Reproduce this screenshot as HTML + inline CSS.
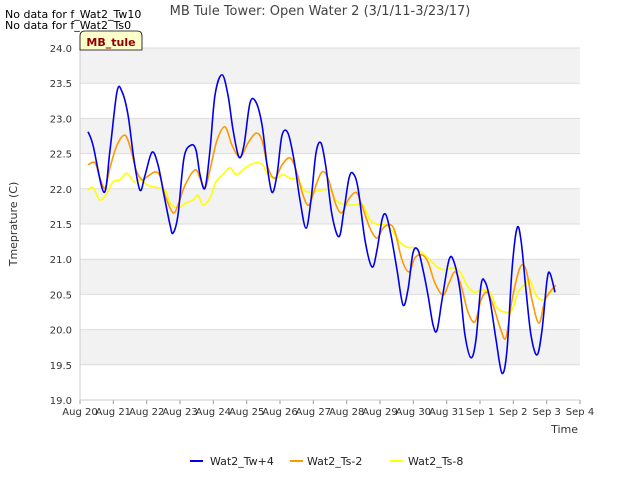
<!DOCTYPE html>
<html><head><meta charset="utf-8"><style>
body{margin:0;background:#fff;font-family:"Liberation Sans",sans-serif}
svg text{font-family:"DejaVu Sans","Liberation Sans",sans-serif}
</style></head><body>
<svg id="c" width="640" height="480" xmlns="http://www.w3.org/2000/svg">
<text x="320" y="15" text-anchor="middle" font-size="13" fill="#444">MB Tule Tower: Open Water 2 (3/1/11-3/23/17)</text>
<text x="5" y="18" font-size="11" fill="#000">No data for f_Wat2_Tw10</text>
<text x="5" y="29" font-size="11" fill="#000">No data for f_Wat2_Ts0</text>
<g id="plot"></g>
<g>
<path d="M80,50 L80,36 Q80,31 85,31 L137,31 Q142,31 142,36 L142,50 Z" fill="#ffffcc" stroke="#000" stroke-width="0.8"/>
<text x="111" y="46" text-anchor="middle" font-size="11" font-weight="bold" fill="#8b0000">MB_tule</text>
</g>
<text transform="translate(17,224) rotate(-90)" text-anchor="middle" font-size="11" fill="#333">Tmeprature (C)</text>
<text x="578" y="433" text-anchor="end" font-size="11" fill="#333">Time</text>
<g>
<g><line x1="190" y1="461" x2="203" y2="461" stroke="#0000ee" stroke-width="2"/><text x="210" y="465" font-size="11" fill="#222">Wat2_Tw+4</text></g>
<g><line x1="290" y1="461" x2="303" y2="461" stroke="#ff9900" stroke-width="2"/><text x="307" y="465" font-size="11" fill="#222">Wat2_Ts-2</text></g>
<g><line x1="390" y1="461" x2="403" y2="461" stroke="#ffff00" stroke-width="2"/><text x="408" y="465" font-size="11" fill="#222">Wat2_Ts-8</text></g>
</g>
</svg>
<script>
const xTickLabels=["Aug 20","Aug 21","Aug 22","Aug 23","Aug 24","Aug 25","Aug 26","Aug 27","Aug 28","Aug 29","Aug 30","Aug 31","Sep 1","Sep 2","Sep 3","Sep 4"];
const yTicks=[19.0,19.5,20.0,20.5,21.0,21.5,22.0,22.5,23.0,23.5,24.0];
const blueDays=[0.24,0.39,0.72,0.9,1.11,1.26,1.44,1.62,1.8,1.95,2.16,2.34,2.52,2.7,2.79,2.94,3.12,3.33,3.48,3.6,3.75,3.9,4.05,4.26,4.44,4.59,4.77,4.92,5.1,5.28,5.46,5.61,5.76,5.91,6.06,6.24,6.42,6.6,6.78,6.93,7.08,7.23,7.38,7.56,7.77,7.92,8.07,8.19,8.34,8.55,8.76,8.91,9.06,9.18,9.33,9.51,9.69,9.84,9.99,10.14,10.29,10.44,10.59,10.71,10.86,11.07,11.22,11.4,11.55,11.73,11.88,12.03,12.15,12.3,12.48,12.66,12.81,12.96,13.11,13.23,13.38,13.53,13.71,13.86,14.01,14.1,14.25];
const blueVals=[22.81,22.62,21.95,22.55,23.38,23.38,23.05,22.41,21.98,22.19,22.52,22.34,21.91,21.49,21.37,21.63,22.44,22.62,22.55,22.2,22.01,22.55,23.33,23.62,23.33,22.84,22.45,22.62,23.22,23.23,22.91,22.34,21.95,22.2,22.76,22.79,22.41,21.84,21.44,21.84,22.51,22.65,22.3,21.63,21.32,21.7,22.15,22.22,22.01,21.27,20.89,21.13,21.56,21.63,21.34,20.85,20.35,20.57,21.09,21.13,20.85,20.49,20.07,19.99,20.42,20.99,20.96,20.56,19.92,19.6,19.86,20.63,20.68,20.42,19.86,19.38,19.71,20.85,21.44,21.27,20.56,19.92,19.64,19.99,20.7,20.8,20.53];
const orangeDays=[0.24,0.45,0.6,0.75,0.9,1.11,1.35,1.53,1.68,1.86,2.01,2.25,2.4,2.55,2.79,2.94,3.15,3.45,3.6,3.75,3.9,4.11,4.35,4.56,4.8,5.04,5.28,5.46,5.64,5.85,6.06,6.3,6.48,6.69,6.87,7.08,7.26,7.44,7.68,7.86,8.04,8.28,8.43,8.7,8.91,9.09,9.3,9.45,9.66,9.87,10.05,10.26,10.44,10.65,10.89,11.07,11.25,11.43,11.64,11.85,12.03,12.21,12.39,12.63,12.78,12.96,13.2,13.38,13.56,13.77,13.95,14.19,14.28];
const orangeVals=[22.34,22.37,22.15,22.01,22.3,22.62,22.76,22.55,22.27,22.13,22.17,22.24,22.18,21.91,21.66,21.77,22.05,22.27,22.15,22.01,22.27,22.69,22.88,22.62,22.45,22.65,22.79,22.69,22.3,22.15,22.34,22.44,22.27,21.91,21.77,22.05,22.24,22.15,21.77,21.66,21.84,21.95,21.8,21.44,21.3,21.44,21.49,21.39,20.99,20.82,21.02,21.06,20.96,20.66,20.49,20.66,20.82,20.63,20.25,20.11,20.42,20.53,20.35,19.99,19.89,20.42,20.88,20.85,20.42,20.09,20.42,20.59,20.63];
const yellowDays=[0.24,0.39,0.6,0.81,0.99,1.2,1.41,1.62,1.8,2.04,2.28,2.55,2.7,2.94,3.18,3.39,3.54,3.69,3.9,4.08,4.29,4.5,4.68,4.89,5.1,5.31,5.49,5.64,5.88,6.09,6.3,6.54,6.72,6.96,7.2,7.5,7.68,7.95,8.25,8.49,8.7,8.94,9.18,9.39,9.6,9.81,10.05,10.26,10.5,10.74,10.98,11.19,11.4,11.61,11.82,12.03,12.3,12.51,12.75,12.96,13.14,13.32,13.5,13.68,13.89,14.1,14.28];
const yellowVals=[21.98,22.02,21.84,21.94,22.1,22.13,22.22,22.1,22.13,22.05,22.02,21.98,21.8,21.73,21.8,21.84,21.91,21.77,21.87,22.1,22.2,22.3,22.2,22.27,22.34,22.37,22.34,22.2,22.15,22.2,22.15,22.13,21.98,21.95,21.98,21.98,21.84,21.77,21.77,21.77,21.56,21.49,21.49,21.39,21.24,21.17,21.16,21.09,20.99,20.88,20.85,20.88,20.82,20.63,20.53,20.56,20.53,20.31,20.25,20.28,20.53,20.63,20.7,20.49,20.42,20.52,20.56];
const L=80,R=580,T=48,B=400,ymin=19,ymax=24,nd=15;
const xs=d=>L+(R-L)*d/nd, ys=v=>B-(B-T)*(v-ymin)/(ymax-ymin);
const NS="http://www.w3.org/2000/svg", g=document.getElementById('plot');
function mk(t,a){const e=document.createElementNS(NS,t);for(const k in a)e.setAttribute(k,a[k]);g.appendChild(e);return e;}
const bg=mk('rect',{x:L,y:T,width:R-L,height:B-T,fill:'#fff'});


for(let i=0;i<yTicks.length-1;i++){
  if(i%2===1){const b=mk('rect',{x:L,y:ys(yTicks[i+1]),width:R-L,height:ys(yTicks[i])-ys(yTicks[i+1]),fill:'#f2f2f2'});
  
  }
}
yTicks.forEach(v=>{
  const l=mk('line',{x1:L,x2:R,y1:ys(v),y2:ys(v),stroke:'#ddd','stroke-width':1});
  
  
  const t=mk('text',{x:L-8,y:ys(v)+4,'text-anchor':'end','font-size':10,fill:'#333'});t.textContent=v.toFixed(1);
  
  
});
xTickLabels.forEach((s,i)=>{
  const l=mk('line',{x1:xs(i),x2:xs(i),y1:B,y2:B+4,stroke:'#999'});
  
  
  const t=mk('text',{x:xs(i),y:B+15,'text-anchor':'middle','font-size':10,fill:'#333'});t.textContent=s;
  
  
});
const ax=mk('path',{d:`M${L},${T}V${B}H${R}`,fill:'none',stroke:'#ccc'});


function curve(D,V){const p=D.map((d,i)=>[xs(d),ys(V[i])]);let s=`M${p[0][0]},${p[0][1]}`;
 for(let i=0;i<p.length-1;i++){const a=p[Math.max(0,i-1)],b=p[i],c=p[i+1],e=p[Math.min(p.length-1,i+2)];
 s+=`C${b[0]+(c[0]-a[0])/6},${b[1]+(c[1]-a[1])/6} ${c[0]-(e[0]-b[0])/6},${c[1]-(e[1]-b[1])/6} ${c[0]},${c[1]}`;}return s;}
const sy=mk('path',{d:curve(yellowDays,yellowVals),fill:'none',stroke:'#ffff00','stroke-width':1.6});


const so=mk('path',{d:curve(orangeDays,orangeVals),fill:'none',stroke:'#ff9900','stroke-width':1.6});


const sb=mk('path',{d:curve(blueDays,blueVals),fill:'none',stroke:'#0000ee','stroke-width':1.6});


</script>
</body></html>
